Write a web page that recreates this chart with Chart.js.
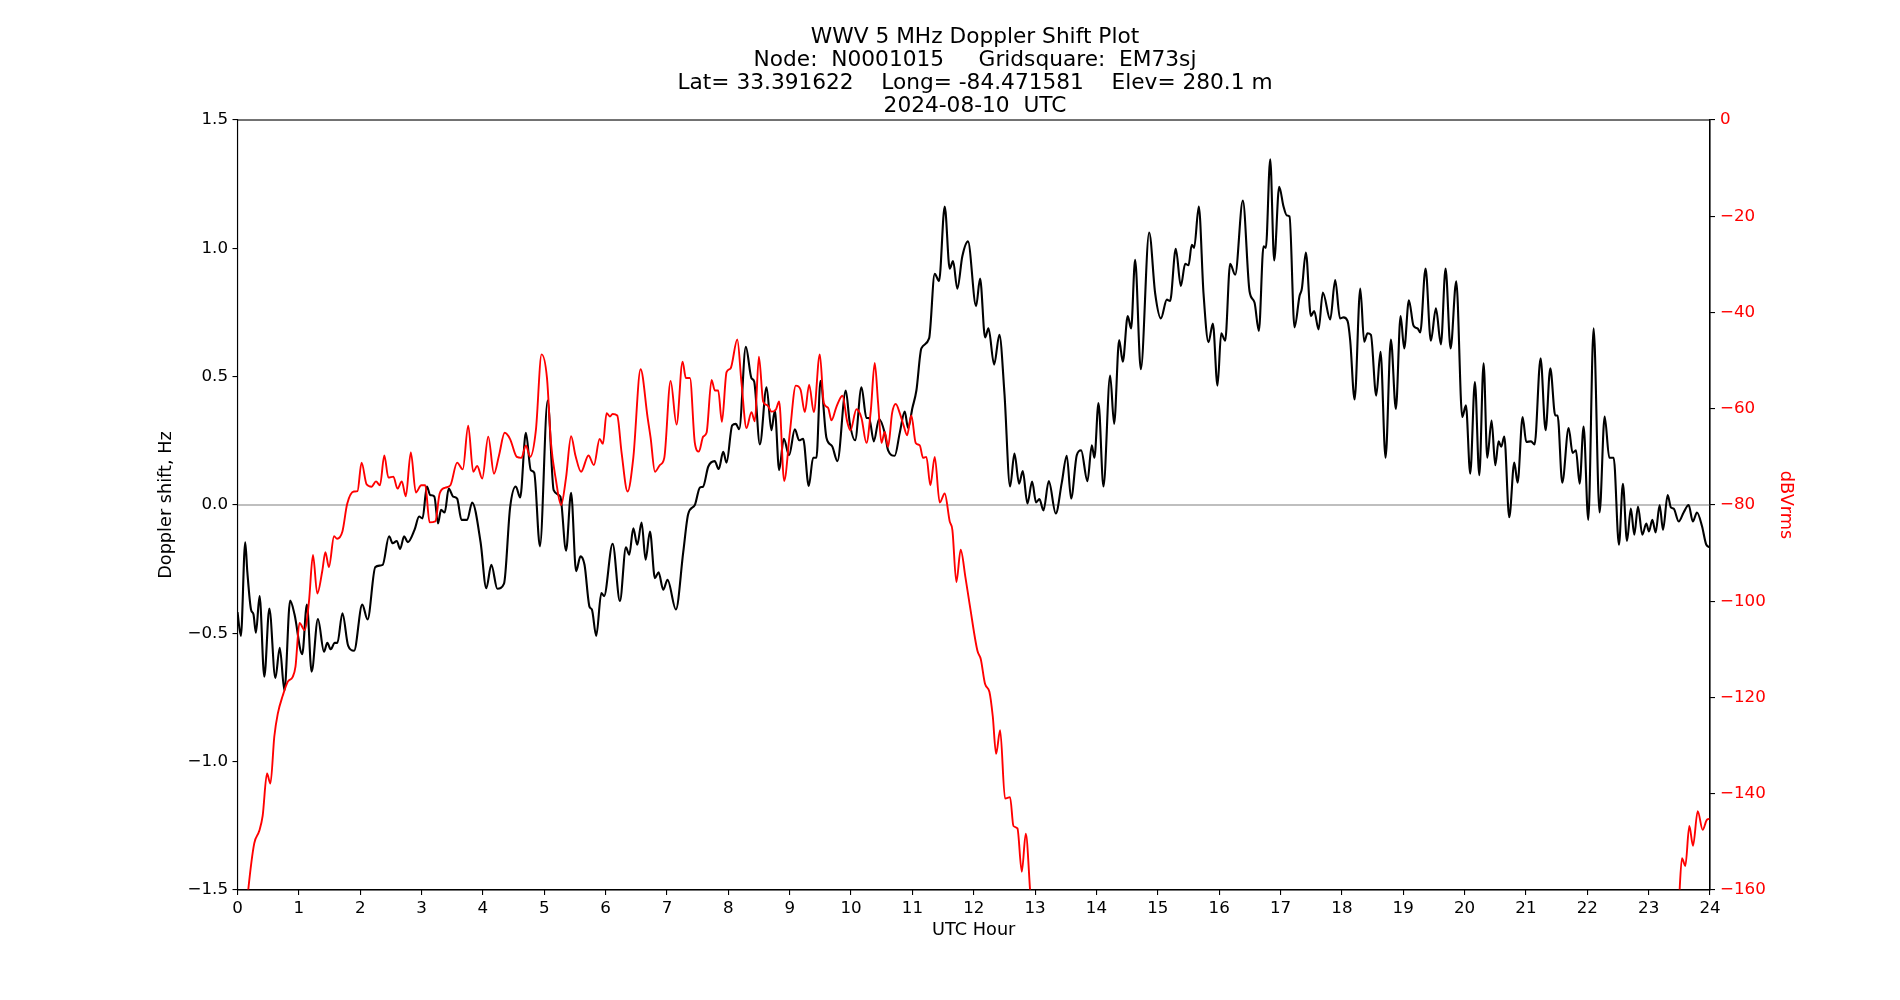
<!DOCTYPE html>
<html>
<head>
<meta charset="utf-8">
<title>WWV 5 MHz Doppler Shift Plot</title>
<script src="https://cdn.jsdelivr.net/npm/chart.js@4.4.1/dist/chart.umd.min.js"></script>
<style>
  html, body { margin: 0; padding: 0; background: #fff; }
  #wrap { width: 1900px; height: 1000px; }
</style>
</head>
<body>
<div id="wrap"><canvas id="plot" width="1900" height="1000"></canvas></div>
<script>
// Doppler shift (black, left axis)
const dopplerHours = [
	0, 0.055, 0.126, 0.16, 0.22, 0.26, 0.30, 0.36, 0.437, 0.519, 0.617, 0.689, 0.765, 0.858, 0.929,
	1.055, 1.131, 1.208, 1.311, 1.41, 1.464, 1.519, 1.585, 1.628, 1.71, 1.803, 1.90,
	2.033, 2.12, 2.246, 2.366, 2.47, 2.53, 2.596, 2.65, 2.716, 2.776, 2.885, 2.96,
	3.016, 3.087, 3.14, 3.208, 3.268, 3.317, 3.377, 3.443, 3.514, 3.58, 3.65, 3.743, 3.825, 3.962,
	4.055, 4.137, 4.235, 4.344, 4.443, 4.536, 4.607, 4.70, 4.78, 4.836, 4.929,
	5.055, 5.153, 5.262, 5.355, 5.437, 5.519, 5.59, 5.656, 5.738, 5.776, 5.847, 5.93, 5.975,
	6.114, 6.233, 6.331, 6.385, 6.451, 6.516, 6.586, 6.652, 6.722, 6.804, 6.863, 6.939,
	7.009, 7.146, 7.265, 7.346, 7.454, 7.536, 7.59, 7.672, 7.778, 7.843, 7.917, 7.971,
	8.063, 8.123, 8.177, 8.285, 8.377, 8.421, 8.514, 8.623, 8.702, 8.758, 8.828, 8.904, 8.99,
	9.084, 9.154, 9.219, 9.311, 9.382, 9.436, 9.502, 9.599, 9.692, 9.778, 9.914, 9.979,
	10.066, 10.17, 10.251, 10.295, 10.371, 10.457, 10.549, 10.604, 10.712, 10.794, 10.875, 10.93,
	11.0, 11.065, 11.146, 11.272, 11.364, 11.434, 11.527, 11.608, 11.663, 11.732, 11.814, 11.906,
	12.038, 12.103, 12.185, 12.24, 12.332, 12.418, 12.50, 12.592, 12.663, 12.739, 12.799, 12.875, 12.951,
	13.016, 13.07, 13.136, 13.223, 13.337, 13.435, 13.516, 13.587, 13.679, 13.75, 13.853, 13.924, 13.967,
	14.033, 14.114, 14.223, 14.288, 14.37, 14.429, 14.51, 14.565, 14.63, 14.723, 14.859, 14.957,
	15.05, 15.147, 15.20, 15.293, 15.375, 15.446, 15.50, 15.554, 15.592, 15.668, 15.745, 15.826, 15.897, 15.973,
	16.033, 16.098, 16.179, 16.261, 16.386, 16.495, 16.576, 16.647, 16.723, 16.761, 16.832, 16.897, 16.978,
	17.049, 17.103, 17.147, 17.228, 17.31, 17.348, 17.413, 17.495, 17.549, 17.62, 17.69, 17.81, 17.891, 17.97,
	18.027, 18.092, 18.136, 18.207, 18.30, 18.364, 18.418, 18.473, 18.56, 18.63, 18.712, 18.799, 18.88, 18.957,
	19.016, 19.092, 19.168, 19.234, 19.277, 19.364, 19.45, 19.533, 19.614, 19.69, 19.772, 19.864, 19.962,
	20.022, 20.092, 20.168, 20.24, 20.31, 20.37, 20.44, 20.50, 20.554, 20.598, 20.647, 20.728, 20.81, 20.864, 20.946,
	21.005, 21.082, 21.141, 21.239, 21.32, 21.397, 21.478, 21.516, 21.592, 21.696, 21.76, 21.815, 21.875, 21.94,
	22.016, 22.103, 22.20, 22.283, 22.359, 22.43, 22.516, 22.58, 22.647, 22.71, 22.766, 22.826, 22.897, 22.962,
	23.005, 23.06, 23.114, 23.179, 23.234, 23.31, 23.364, 23.408, 23.49, 23.57, 23.652, 23.72, 23.788, 23.87, 23.94, 24.0
];
const dopplerHz = [
	-0.417, -0.51, -0.145, -0.26, -0.407, -0.426, -0.498, -0.355, -0.669, -0.403, -0.674, -0.556, -0.723, -0.372, -0.426,
	-0.581, -0.388, -0.649, -0.444, -0.572, -0.537, -0.562, -0.537, -0.537, -0.422, -0.548, -0.568,
	-0.388, -0.446, -0.242, -0.233, -0.122, -0.149, -0.14, -0.171, -0.122, -0.145, -0.097, -0.045,
	-0.052, 0.072, 0.039, 0.033, -0.072, -0.019, -0.029, 0.064, 0.033, 0.025, -0.058, -0.058, 0.01, -0.145,
	-0.324, -0.233, -0.326, -0.306, -0.01, 0.072, 0.029, 0.281, 0.136, 0.126, -0.161,
	0.407, 0.058, 0.033, -0.178, 0.048, -0.258, -0.2, -0.233, -0.397, -0.407, -0.51, -0.343, -0.355,
	-0.151, -0.374, -0.165, -0.194, -0.091, -0.155, -0.068, -0.213, -0.103, -0.285, -0.262, -0.33,
	-0.291, -0.407, -0.184, -0.035, 0.0, 0.068, 0.072, 0.149, 0.171, 0.14, 0.207, 0.165,
	0.31, 0.316, 0.295, 0.616, 0.494, 0.481, 0.236, 0.459, 0.291, 0.368, 0.136, 0.258, 0.194,
	0.295, 0.252, 0.258, 0.074, 0.184, 0.184, 0.484, 0.262, 0.229, 0.171, 0.446, 0.32,
	0.252, 0.459, 0.339, 0.339, 0.248, 0.335, 0.281, 0.213, 0.192, 0.281, 0.364, 0.30,
	0.378, 0.446, 0.61, 0.649, 0.901, 0.872, 1.163, 0.921, 0.95, 0.843, 0.969, 1.027,
	0.775, 0.882, 0.653, 0.688, 0.547, 0.663, 0.436, 0.072, 0.20, 0.083, 0.132, 0.006, 0.091,
	0.01, 0.023, -0.021, 0.093, -0.033, 0.087, 0.192, 0.025, 0.194, 0.213, 0.093, 0.233, 0.184,
	0.397, 0.072, 0.504, 0.316, 0.643, 0.558, 0.736, 0.688, 0.955, 0.529, 1.062, 0.824,
	0.727, 0.80, 0.795, 0.998, 0.853, 0.94, 0.934, 1.014, 1.002, 1.163, 0.824, 0.634, 0.707, 0.465,
	0.669, 0.64, 0.94, 0.897, 1.186, 0.833, 0.789, 0.678, 1.008, 1.002, 1.347, 0.953, 1.24,
	1.163, 1.128, 1.124, 0.692, 0.814, 0.843, 0.984, 0.736, 0.756, 0.684, 0.828, 0.723, 0.876, 0.727,
	0.731, 0.717, 0.64, 0.411, 0.843, 0.636, 0.669, 0.663, 0.426, 0.597, 0.184, 0.645, 0.374, 0.736,
	0.61, 0.798, 0.698, 0.688, 0.672, 0.921, 0.64, 0.766, 0.626, 0.921, 0.61, 0.872, 0.343,
	0.388, 0.122, 0.479, 0.116, 0.552, 0.184, 0.329, 0.155, 0.248, 0.227, 0.267, -0.048, 0.165, 0.087, 0.343,
	0.246, 0.248, 0.236, 0.572, 0.291, 0.533, 0.349, 0.349, 0.087, 0.30, 0.203, 0.213, 0.083, 0.306,
	-0.058, 0.688, -0.029, 0.345, 0.184, 0.184, -0.155, 0.083, -0.14, -0.014, -0.116, -0.006, -0.116, -0.072,
	-0.103, -0.058, -0.107, 0.0, -0.097, 0.039, -0.01, -0.014, -0.064, -0.029, 0.0, -0.064, -0.029, -0.083, -0.155, -0.165
];

// Signal level (red, right axis); null = no trace (below -160 dBV)
const powerHours = [
	0.12, 0.175, 0.273, 0.355, 0.41, 0.481, 0.536, 0.60, 0.656, 0.738, 0.82, 0.90, 0.945,
	1.01, 1.093, 1.164, 1.23, 1.30, 1.383, 1.432, 1.49, 1.574, 1.623, 1.71, 1.787, 1.896, 1.956,
	2.022, 2.104, 2.186, 2.257, 2.322, 2.393, 2.459, 2.541, 2.607, 2.678, 2.743, 2.825, 2.907, 2.995,
	3.06, 3.131, 3.224, 3.295, 3.388, 3.47, 3.58, 3.672, 3.76, 3.842, 3.907, 3.989,
	4.087, 4.18, 4.262, 4.355, 4.443, 4.552, 4.628, 4.70, 4.77, 4.863, 4.956,
	5.044, 5.109, 5.19, 5.273, 5.355, 5.437, 5.508, 5.60, 5.72, 5.809, 5.902, 5.956,
	6.016, 6.07, 6.114, 6.189, 6.26, 6.358, 6.451, 6.57, 6.685, 6.733, 6.804, 6.884, 6.956,
	7.059, 7.156, 7.254, 7.308, 7.374, 7.454, 7.52, 7.59, 7.645, 7.727, 7.78, 7.835, 7.895, 7.971,
	8.037, 8.146, 8.215, 8.296, 8.377, 8.432, 8.498, 8.568, 8.639, 8.703, 8.774, 8.828, 8.91,
	9.002, 9.1, 9.176, 9.247, 9.317, 9.393, 9.491, 9.556, 9.626, 9.681, 9.762, 9.86, 9.936, 9.99,
	10.088, 10.17, 10.251, 10.322, 10.386, 10.441, 10.496, 10.549, 10.604, 10.669, 10.729, 10.794, 10.858, 10.913, 10.983,
	11.054, 11.12, 11.174, 11.228, 11.293, 11.364, 11.445, 11.527, 11.608, 11.652, 11.717, 11.787, 11.864, 11.934,
	12.06, 12.114, 12.185, 12.255, 12.31, 12.364, 12.43, 12.51, 12.592, 12.647, 12.712, 12.783, 12.848, 12.918, 12.96,
	18.0,
	23.48, 23.505, 23.543, 23.598, 23.663, 23.723, 23.80, 23.88, 23.95, 24.0
];
const powerDb = [
	-168, -160, -150.3, -147.7, -144.6, -135.8, -137.9, -128.1, -123.4, -119.6, -116.7, -115.7, -113.6,
	-104.5, -106.0, -100.2, -90.4, -98.4, -93.6, -89.8, -92.9, -86.5, -87.0, -85.5, -79.8, -77.2, -77.1,
	-71.2, -75.7, -76.2, -75.1, -75.9, -69.7, -74.3, -74.1, -76.6, -75.1, -78.2, -69.1, -77.4, -75.9,
	-75.9, -83.6, -83.4, -77.6, -76.4, -75.9, -71.2, -72.6, -63.5, -73.1, -71.9, -74.5,
	-65.8, -73.5, -69.7, -65.0, -66.3, -70.0, -70.2, -67.6, -70.0, -64.5, -48.7,
	-53.6, -67.1, -74.8, -80.0, -74.3, -65.7, -69.7, -73.1, -69.7, -71.7, -66.3, -67.3,
	-60.9, -61.6, -61.1, -61.4, -69.1, -77.2, -70.2, -51.8, -61.9, -66.0, -73.1, -71.7, -70.2,
	-54.2, -63.3, -50.2, -53.6, -53.6, -67.1, -68.9, -65.8, -65.0, -54.0, -56.2, -56.2, -62.7, -52.4,
	-51.6, -45.6, -54.7, -64.0, -60.7, -62.6, -49.2, -58.5, -59.3, -60.6, -60.2, -58.5, -75.0,
	-65.0, -55.2, -56.0, -60.7, -55.0, -60.7, -48.7, -58.8, -59.8, -62.4, -59.6, -57.3, -62.6, -64.5,
	-60.1, -61.9, -67.1, -60.4, -50.5, -58.8, -67.1, -64.8, -67.9, -60.9, -59.0, -60.9, -63.5, -65.5, -61.4,
	-67.1, -67.6, -70.2, -70.0, -75.9, -70.0, -79.5, -77.6, -83.4, -85.2, -96.0, -89.3, -95.0, -100.7,
	-110.3, -112.0, -117.2, -118.8, -123.9, -131.7, -126.8, -141.0, -140.7, -146.7, -147.2, -156.2, -148.3, -160, -168,
	null,
	-168, -160, -153.4, -155.0, -146.7, -150.8, -143.6, -147.5, -145.4, -145.2
];

const titleLines = [
	'WWV 5 MHz Doppler Shift Plot',
	'Node:  N0001015     Gridsquare:  EM73sj',
	'Lat= 33.391622    Long= -84.471581    Elev= 280.1 m',
	'2024-08-10  UTC'
];

const minus = s => String(s).replace('-', '\u2212');
const toPoints = (xs, ys) => xs.map((x, i) => ({ x: x, y: ys[i] }));

Chart.defaults.font.family = '"DejaVu Sans", sans-serif';
Chart.defaults.font.size = 16.7;
Chart.defaults.color = '#000';

// top spine of the axes box
const frame = {
	id: 'frame',
	afterDraw(chart){
		const a = chart.chartArea;
		const ctx = chart.ctx;
		ctx.save();
		ctx.strokeStyle = '#000';
		ctx.lineWidth = 1.1;
		ctx.strokeRect(a.left, a.top, a.right - a.left, a.bottom - a.top);
		ctx.restore();
	}
};

new Chart(document.getElementById('plot'), {
	type: 'line',
	data: {
		datasets: [{
			label: 'dBVrms',
			data: toPoints(powerHours, powerDb),
			yAxisID: 'yPower',
			borderColor: '#ff0000',
			borderWidth: 1.9,
			pointRadius: 0,
			cubicInterpolationMode: 'monotone',
			spanGaps: false,
			order: 0
		}, {
			label: 'Doppler shift',
			data: toPoints(dopplerHours, dopplerHz),
			yAxisID: 'yShift',
			borderColor: '#000000',
			borderWidth: 2.1,
			pointRadius: 0,
			cubicInterpolationMode: 'monotone',
			order: 1
		}, {
			label: 'zero',
			data: toPoints([0, 24], [0, 0]),
			yAxisID: 'yShift',
			borderColor: '#808080',
			borderWidth: 1.1,
			pointRadius: 0,
			order: 2
		}]
	},
	options: {
		responsive: false,
		animation: false,
		devicePixelRatio: 1,
		events: [],
		layout: { padding: { left: 150, right: 100, top: 0, bottom: 54 } },
		plugins: {
			legend: { display: false },
			tooltip: { enabled: false },
			title: {
				display: true,
				text: titleLines,
				color: '#000',
				font: { size: 21.7, weight: 'normal', lineHeight: 1.06 },
				padding: { top: 26, bottom: 2 }
			}
		},
		scales: {
			x: {
				type: 'linear',
				min: 0,
				max: 24,
				ticks: { stepSize: 1, autoSkip: false, maxRotation: 0, padding: 4, color: '#000' },
				grid: { drawOnChartArea: false, drawTicks: true, tickLength: 5, color: '#000', lineWidth: 1.1 },
				border: { display: true, color: '#000', width: 1.1 },
				title: { display: true, text: 'UTC Hour', color: '#000', font: { size: 17.7 }, padding: { top: 0, bottom: 5 } },
				afterFit: scale => { scale.height = 56; }
			},
			yShift: {
				type: 'linear',
				position: 'left',
				min: -1.5,
				max: 1.5,
				ticks: { stepSize: 0.5, padding: 4.5, color: '#000', callback: v => minus(v.toFixed(1)) },
				grid: { drawOnChartArea: false, drawTicks: true, tickLength: 5, color: '#000', lineWidth: 1.1 },
				border: { display: true, color: '#000', width: 1.1 },
				title: { display: true, text: 'Doppler shift, Hz', color: '#000', font: { size: 17.7 }, padding: { top: 6, bottom: 0 } },
				afterFit: scale => { scale.width = 87.5; }
			},
			yPower: {
				type: 'linear',
				position: 'right',
				min: -160,
				max: 0,
				ticks: { stepSize: 20, padding: 5, color: '#ff0000', callback: v => minus(v) },
				grid: { drawOnChartArea: false, drawTicks: true, tickLength: 5, color: '#000', lineWidth: 1.1 },
				border: { display: true, color: '#000', width: 1.1 },
				title: { display: true, text: 'dBVrms', color: '#ff0000', font: { size: 17.7 }, padding: { top: 4, bottom: 0 } },
				afterFit: scale => { scale.width = 90; }
			}
		}
	},
	plugins: [frame]
});
</script>
</body>
</html>
